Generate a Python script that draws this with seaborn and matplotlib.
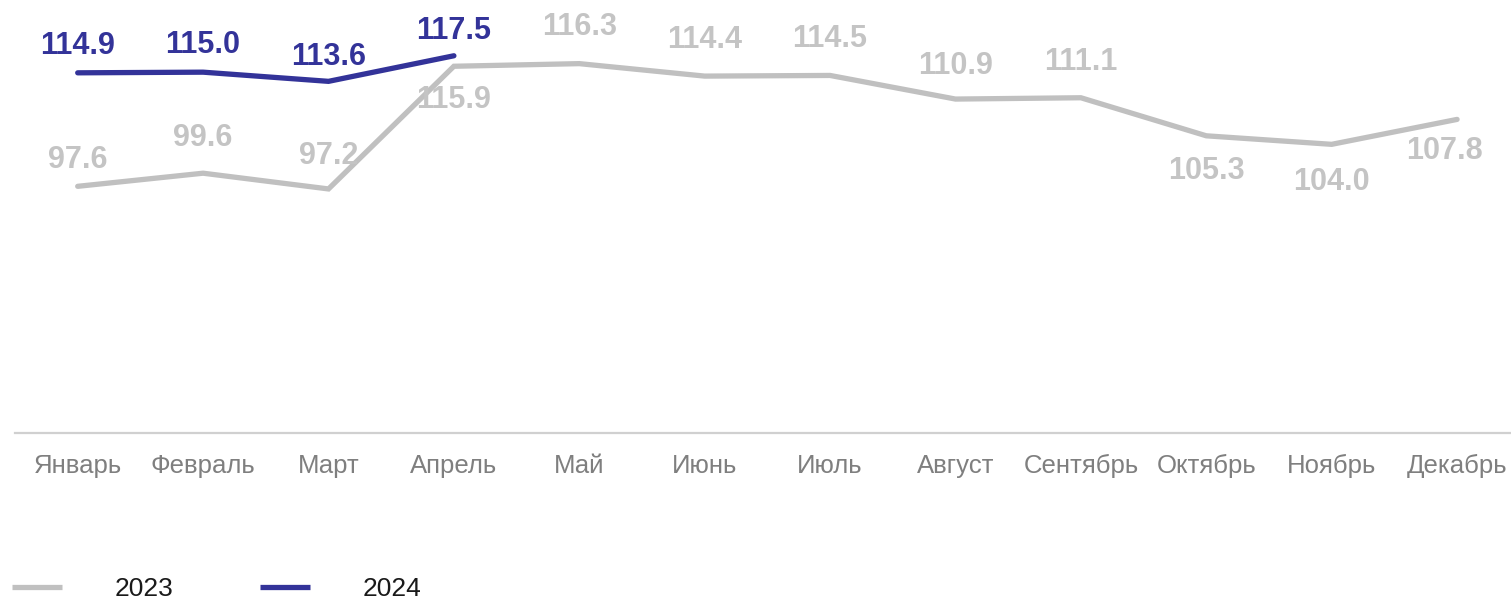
"""Monthly index, 2023 vs 2024 line chart."""

import matplotlib

matplotlib.use("Agg")
import matplotlib.pyplot as plt
import pandas as pd
import seaborn as sns
from matplotlib.lines import Line2D

months = ["Январь", "Февраль", "Март", "Апрель", "Май", "Июнь",
          "Июль", "Август", "Сентябрь", "Октябрь", "Ноябрь", "Декабрь"]
values_2023 = [97.6, 99.6, 97.2, 115.9, 116.3, 114.4, 114.5, 110.9, 111.1, 105.3, 104.0, 107.8]
values_2024 = [114.9, 115.0, 113.6, 117.5]
years = ["2023", "2024"]

# label offsets from the point, in pixels (x, y); positive y = above
offsets_2023 = [(0, 26), (0, 35), (0, 33), (0, -34), (0, 37), (0, 36),
                (0, 36), (0, 33), (0, 36), (0, -35), (0, -38), (-13, -32)]
offsets_2024 = [(0, 27), (0, 27), (0, 24), (0, 25)]

colors = {"2023": "#C0C0C0", "2024": "#333399"}
label_colors = {"2023": "#C4C4C4", "2024": "#333399"}

sns.set_theme(style="white")
plt.rcParams["font.family"] = ["Liberation Sans", "DejaVu Sans"]

df = pd.concat([
    pd.DataFrame({"month": months, "value": values_2023, "year": "2023"}),
    pd.DataFrame({"month": months[:len(values_2024)], "value": values_2024, "year": "2024"}),
], ignore_index=True)

DPI = 100
PX = 72 / DPI  # pixels -> points

fig = plt.figure(figsize=(15.11, 6.0), dpi=DPI)
ax = fig.add_axes([15 / 1511, 1 - 433 / 600, 1 - 15 / 1511, 433 / 600])

sns.lineplot(data=df, x="month", y="value", hue="year", palette=colors,
             linewidth=3.8, sort=False, legend=False, ax=ax,
             solid_capstyle="round", solid_joinstyle="miter")

ax.set_xlim(-0.5, 11.43)
ax.set_ylim(60, 126)

for i, (v, (dx, dy)) in enumerate(zip(values_2023, offsets_2023)):
    ax.annotate(f"{v:.1f}", (i, v), xytext=(dx * PX, dy * PX), textcoords="offset points",
                ha="center", va="center", fontsize=22, fontweight="bold",
                color=label_colors["2023"])
for i, (v, (dx, dy)) in enumerate(zip(values_2024, offsets_2024)):
    ax.annotate(f"{v:.1f}", (i, v), xytext=(dx * PX, dy * PX), textcoords="offset points",
                ha="center", va="center", fontsize=22, fontweight="bold",
                color=label_colors["2024"])

for side in ["top", "left", "right"]:
    ax.spines[side].set_visible(False)
ax.spines["bottom"].set_color("#D0D0D0")
ax.spines["bottom"].set_linewidth(1.6)
ax.set_yticks([])
ax.set_xticks(range(len(months)))
ax.set_xticklabels(months, fontsize=18.5, color="#7F7F7F")
ax.tick_params(axis="x", length=0, pad=15)
ax.set_xlabel("")
ax.set_ylabel("")

handles = [Line2D([], [], color=colors[y], linewidth=3.8, solid_capstyle="butt") for y in years]
fig.legend(handles, years, loc="center left", bbox_to_anchor=(12 / 1511, 1 - 589 / 600), ncol=2,
           frameon=False, fontsize=19, handlelength=1.9, handletextpad=2.0,
           columnspacing=3.26, borderpad=0, borderaxespad=0, labelcolor="#1A1A1A")

fig.savefig("out.png", dpi=DPI)
